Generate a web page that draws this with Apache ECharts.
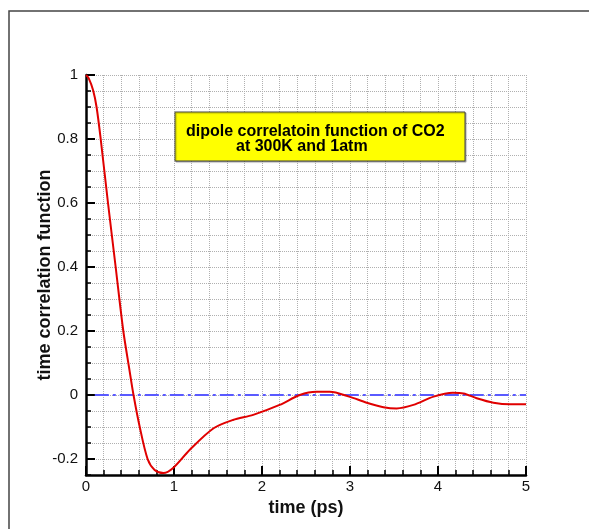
<!DOCTYPE html>
<html>
<head>
<meta charset="utf-8">
<script src="https://cdn.jsdelivr.net/npm/echarts@6/dist/echarts.min.js"></script>
<style>
  html, body { margin: 0; padding: 0; background: #fff; }
  #chart { width: 589px; height: 529px; }
</style>
</head>
<body>
<div id="chart"></div>
<script>
// time (ps) and dipole correlation values
const timePs = [0, 0.03, 0.08, 0.12, 0.167, 0.25, 0.337, 0.424, 0.49, 0.54, 0.61, 0.70, 0.78, 0.88, 0.99,
  1.18, 1.45, 1.67, 1.9, 2.2, 2.43, 2.62, 2.77, 2.99, 3.19, 3.38, 3.53, 3.72, 3.95, 4.17, 4.29, 4.44, 4.63, 4.82, 5.0];
const corr = [1, 0.99, 0.953, 0.9, 0.8, 0.6, 0.4, 0.2, 0.085, 0, -0.099, -0.2, -0.234, -0.244, -0.228,
  -0.171, -0.104, -0.078, -0.062, -0.031, 0, 0.010, 0.010, -0.005, -0.024, -0.038, -0.042, -0.031, -0.005, 0.007, 0.005, -0.010, -0.024, -0.029, -0.029];
const zeroLineX = [0.1, 5];
const zeroLineY = [0, 0];
const yTickValues = [-0.2, 0, 0.2, 0.4, 0.6, 0.8, 1];

const font = 'Liberation Sans, Arial, sans-serif';
const gridColor = '#b0b0b0';

const chart = echarts.init(document.getElementById('chart'));

const option = {
  backgroundColor: '#fff',
  animation: false,
  grid: { left: 86, right: 63, top: 75, bottom: 54 },
  xAxis: {
    type: 'value',
    min: 0, max: 5, interval: 1,
    name: 'time (ps)',
    nameLocation: 'middle',
    nameGap: 23,
    nameTextStyle: { fontFamily: font, fontSize: 18, fontWeight: 'bold', color: '#111' },
    axisLine: { show: true, onZero: false, lineStyle: { color: '#000', width: 2.5 } },
    axisTick: { show: true, inside: true, length: 9, lineStyle: { color: '#000', width: 2 } },
    minorTick: { show: true, splitNumber: 5, length: 5, lineStyle: { color: '#000', width: 1.5 } },
    axisLabel: { fontFamily: font, fontSize: 15, color: '#111', margin: 4 },
    splitLine: { show: true, lineStyle: { color: gridColor, type: 'dotted', width: 1 } },
    minorSplitLine: { show: true, lineStyle: { color: gridColor, type: 'dotted', width: 1 } }
  },
  yAxis: [
    {
      // labelled axis, minor ticks and grid every 0.05
      type: 'value',
      min: -0.25, max: 1, interval: 0.05,
      name: 'time correlation function',
      nameLocation: 'middle',
      nameGap: 32,
      nameRotate: 90,
      nameMoveOverlap: false,
      nameTextStyle: { fontFamily: font, fontSize: 18, fontWeight: 'bold', color: '#111' },
      axisLine: { show: true, onZero: false, lineStyle: { color: '#000', width: 2.5 } },
      axisTick: { show: true, inside: true, length: 5, lineStyle: { color: '#000', width: 1.5 } },
      axisLabel: { fontFamily: font, fontSize: 15, color: '#111', margin: 8, customValues: yTickValues },
      splitLine: { show: true, lineStyle: { color: gridColor, type: 'dotted', width: 1 } }
    },
    {
      // major ticks at labelled values
      type: 'value',
      position: 'left',
      min: -0.25, max: 1, interval: 0.05,
      axisLine: { show: false },
      axisTick: { show: true, inside: true, length: 9, customValues: yTickValues, lineStyle: { color: '#000', width: 2 } },
      axisLabel: { show: false },
      splitLine: { show: false }
    }
  ],
  series: [
    {
      type: 'line',
      data: zeroLineX.map((x, i) => [x, zeroLineY[i]]),
      symbol: 'none',
      lineStyle: { color: '#5a5aff', width: 2, type: [14, 4, 3, 4] },
      z: 2
    },
    {
      type: 'line',
      data: timePs.map((t, i) => [t, corr[i]]),
      symbol: 'none',
      smooth: 0.3,
      lineStyle: { color: '#e00000', width: 2 },
      z: 3
    }
  ],
  graphic: [
    {
      type: 'rect',
      shape: { x: 9, y: 11, width: 800, height: 800 },
      style: { fill: 'none', stroke: '#444', lineWidth: 1.5 },
      silent: true
    },
    {
      type: 'rect',
      shape: { x: 175, y: 112, width: 290, height: 49 },
      style: { fill: '#ffff00', stroke: '#444', lineWidth: 1, shadowColor: 'rgba(0,0,0,0.3)', shadowOffsetX: 1, shadowOffsetY: 1, shadowBlur: 1 },
      z: 10
    },
    {
      type: 'text',
      x: 186, y: 124,
      style: { text: 'dipole correlatoin function of CO2', font: 'bold 16px ' + font, fill: '#000' },
      z: 11
    },
    {
      type: 'text',
      x: 236, y: 139,
      style: { text: 'at 300K and 1atm', font: 'bold 16px ' + font, fill: '#000' },
      z: 11
    }
  ]
};

chart.setOption(option);
</script>
</body>
</html>
